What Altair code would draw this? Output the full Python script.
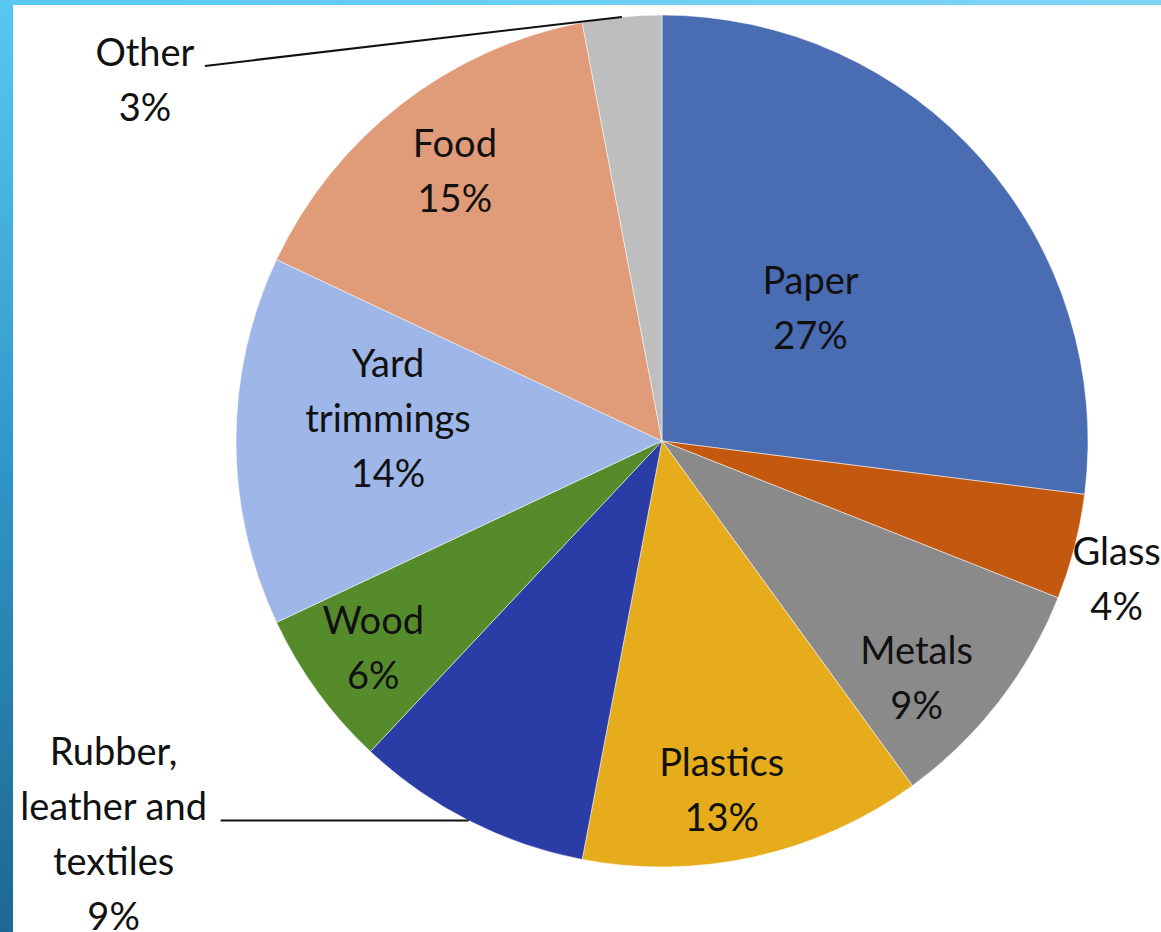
import math
import altair as alt
import pandas as pd

# ---------------- data ----------------
categories = ["Paper", "Glass", "Metals", "Plastics", "Rubber, leather and textiles",
              "Wood", "Yard trimmings", "Food", "Other"]
values = [27, 4, 9, 13, 9, 6, 14, 15, 3]
label_names = ["Paper", "Glass", "Metals", "Plastics", "Rubber,\nleather and\ntextiles",
               "Wood", "Yard\ntrimmings", "Food", "Other"]

# ---------------- style ----------------
colors = ["#4a6cb3", "#c4580f", "#8a8a8a", "#e6ac1c", "#2a3ca5",
          "#568b2c", "#9eb6e8", "#e09b78", "#bebebe"]
W, H = 1161, 932
CX, CY, R = 662, 441, 426
FONT = "Lato"
FS = 38
LH = 55

# in-slice labels: radius (px) and small nudge (dx, dy)
inside = {
    "Paper": (198, 0, 0),
    "Metals": (345, -18, 28),
    "Plastics": (356, -18, 4),
    "Wood": (357, 0, 0),
    "Yard trimmings": (274, 0, -20),
    "Food": (338, 0, 0),
}
# outside labels: text-centre offset and leader line offset from slice edge point
outside = {
    "Glass": {"t": (42, 35), "l": None},
    "Other": {"t": (-477, 66), "l": (-417, 49)},
    "Rubber, leather and textiles": {"t": (-355, 16), "l": (-248, 0)},
}

# ---------------- table ----------------
total = sum(values)
cum = 0
mids = []
for v in values:
    mids.append((cum + v / 2) / total * 100)
    cum += v
labels = [f"{n}\n{v}%" for n, v in zip(label_names, values)]
df = pd.DataFrame({
    "category": categories,
    "value": values,
    "idx": list(range(len(categories))),
    "mid": mids,
    "label": labels,
})
nlines = {c: l.count("\n") + 1 for c, l in zip(categories, labels)}

theta_scale = alt.Scale(domain=[0, 100])
color_scale = alt.Scale(domain=categories, range=colors)

frame = pd.DataFrame({"a": [0]})
left_band = alt.Chart(frame).mark_rect(
    fill=alt.Gradient(gradient="linear",
                      stops=[alt.GradientStop(color="#58c8f2", offset=0),
                             alt.GradientStop(color="#2f96c8", offset=0.5),
                             alt.GradientStop(color="#1d6890", offset=1)],
                      x1=0, x2=0, y1=0, y2=1)
).encode(x=alt.value(0), x2=alt.value(13), y=alt.value(0), y2=alt.value(H))
top_band = alt.Chart(frame).mark_rect(
    fill=alt.Gradient(gradient="linear",
                      stops=[alt.GradientStop(color="#58c8f2", offset=0),
                             alt.GradientStop(color="#7fd5f6", offset=1)],
                      x1=0, x2=1, y1=0, y2=0)
).encode(x=alt.value(0), x2=alt.value(W), y=alt.value(0), y2=alt.value(5))

pie = alt.Chart(df).mark_arc(
    outerRadius=R, stroke="#ffffff", strokeWidth=1, strokeOpacity=0.5
).encode(
    theta=alt.Theta("value:Q", stack=True, scale=theta_scale),
    color=alt.Color("category:N", scale=color_scale, legend=None),
    order=alt.Order("idx:Q"),
    x=alt.value(CX), y=alt.value(CY),
)

text_style = dict(font=FONT, fontSize=FS, lineHeight=LH, lineBreak="\n",
                  align="center", baseline="middle", color="#111111")

layers = [pie]
for cat, (rad, ndx, ndy) in inside.items():
    layers.append(
        alt.Chart(df).transform_filter(alt.datum.category == cat).mark_text(
            radius=rad, dx=ndx, dy=-(nlines[cat] - 1) * LH / 2 + ndy, **text_style
        ).encode(
            theta=alt.Theta("mid:Q", stack=None, scale=theta_scale),
            text="label:N", x=alt.value(CX), y=alt.value(CY),
        )
    )

for cat, o in outside.items():
    ex = f"{CX} + {R}*sin(2*PI*datum.mid/100)"
    ey = f"{CY} - {R}*cos(2*PI*datum.mid/100)"
    base = alt.Chart(df).transform_filter(alt.datum.category == cat).transform_calculate(
        ex=ex, ey=ey,
        tx=f"({ex}) + {o['t'][0]}", ty=f"({ey}) + {o['t'][1]}",
    )
    layers.append(
        base.mark_text(dy=-(nlines[cat] - 1) * LH / 2, **text_style).encode(
            x=alt.X("tx:Q", scale=None), y=alt.Y("ty:Q", scale=None), text="label:N")
    )
    if o["l"] is not None:
        layers.append(
            base.transform_calculate(
                lx=f"datum.ex + {o['l'][0]}", ly=f"datum.ey + {o['l'][1]}"
            ).mark_rule(color="#111111", strokeWidth=2).encode(
                x=alt.X("ex:Q", scale=None), y=alt.Y("ey:Q", scale=None),
                x2="lx:Q", y2="ly:Q")
        )

layers += [left_band, top_band]

chart = alt.layer(*layers).properties(
    width=W, height=H, padding=0, autosize=alt.AutoSizeParams(type="none"),
    background="#ffffff",
).configure_view(stroke=None)

chart.save("out.html", embed_options={"renderer": "svg", "actions": False})
